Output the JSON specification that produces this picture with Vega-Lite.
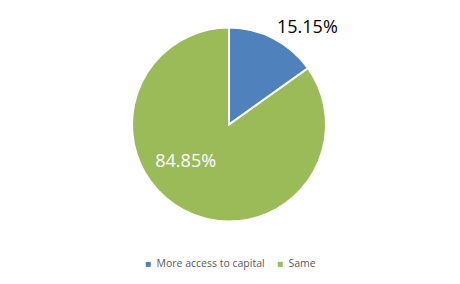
{
  "$schema": "https://vega.github.io/schema/vega-lite/v6.json",
  "width": 458,
  "height": 249,
  "padding": 0,
  "autosize": {"type": "pad"},
  "background": "white",
  "data": {"values": [
    {"category": "More access to capital", "value": 15.15, "label": "15.15%"},
    {"category": "Same", "value": 84.85, "label": "84.85%"}
  ]},
  "encoding": {
    "theta": {"field": "value", "type": "quantitative", "stack": true},
    "color": {
      "field": "category", "type": "nominal",
      "scale": {"domain": ["More access to capital", "Same"], "range": ["#4F81BD", "#9BBB59"]},
      "legend": {
        "title": null, "orient": "bottom", "direction": "horizontal",
        "symbolType": "square", "symbolSize": 25, "symbolStrokeWidth": 0,
        "labelFont": "Open Sans", "labelFontSize": 10.5, "labelColor": "#595959",
        "columnPadding": 10, "offset": 10, "labelOffset": 3
      }
    }
  },
  "layer": [
    {"mark": {"type": "arc", "outerRadius": 97, "stroke": "white", "strokeWidth": 2}},
    {
      "mark": {"type": "text", "radius": 110, "dx": 28, "dy": 1, "font": "Open Sans", "fontSize": 18, "fill": "black", "align": "center", "baseline": "middle"},
      "encoding": {
        "text": {"condition": {"test": "datum.category === 'More access to capital'", "field": "label"}, "value": ""},
        "color": {"value": "black"}
      }
    },
    {
      "mark": {"type": "text", "radius": 40, "dx": -25, "dy": 2, "font": "Open Sans", "fontSize": 18, "fill": "white", "align": "center", "baseline": "middle"},
      "encoding": {
        "text": {"condition": {"test": "datum.category === 'Same'", "field": "label"}, "value": ""},
        "color": {"value": "white"}
      }
    }
  ],
  "config": {
    "view": {"stroke": null},
    "legend": {"layout": {"bottom": {"anchor": "middle"}}}
  }
}
